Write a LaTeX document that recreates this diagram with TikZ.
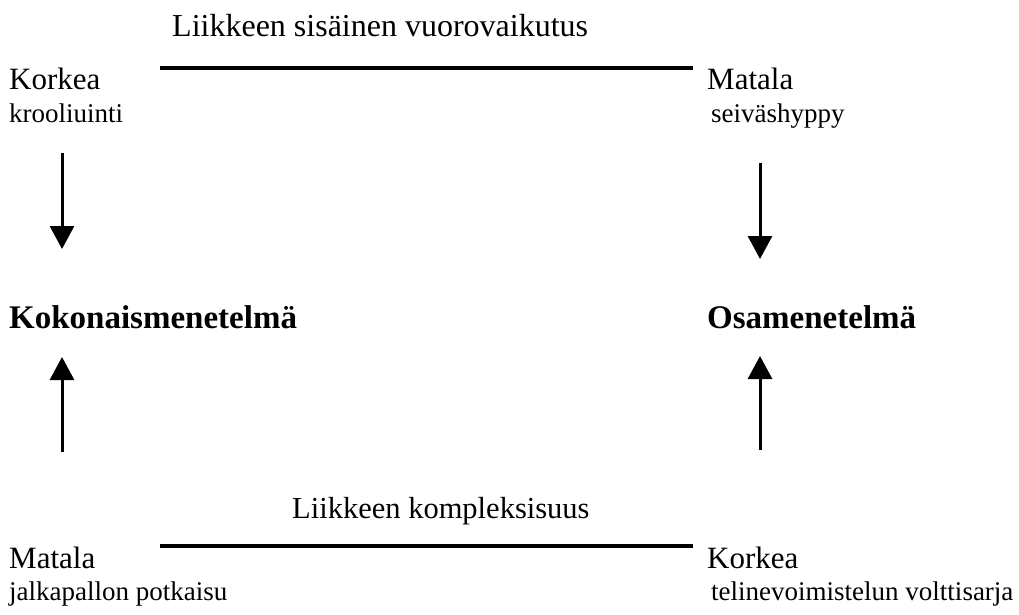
\documentclass[tikz,border=0pt]{standalone}
\usepackage{fontspec}
\setmainfont{Liberation Serif}
\usetikzlibrary{arrows.meta}
\begin{document}
\begin{tikzpicture}[x=1pt,y=-1pt,
  title/.style={anchor=base west,inner sep=0pt,font=\fontsize{32}{35}\selectfont},
  level/.style={anchor=base west,inner sep=0pt,font=\fontsize{31}{34}\selectfont},
  example/.style={anchor=base west,inner sep=0pt,font=\fontsize{27}{30}\selectfont},
  method/.style={anchor=base west,inner sep=0pt,font=\fontsize{33}{36}\selectfont\bfseries},
  scaleline/.style={line width=4.5pt},
  arr/.style={line width=3pt,-{Triangle[width=24pt,length=23pt]}}]
\useasboundingbox (0,0) rectangle (1019,615);
% top
\node[title] (t1) at (172,37) {Liikkeen sisäinen vuorovaikutus};
\coordinate (l1a) at (160,68);
\coordinate (l1b) at (693,68);
\draw[scaleline] (l1a) -- (l1b);
\node[level] (k1) at (9,90) {Korkea};
\node[example] (e1) at (9,122) {krooliuinti};
\node[level] (m1) at (707,90) {Matala};
\node[example] (e2) at (711,122) {seiväshyppy};
% methods
\node[method] (kok) at (9,328) {Kokonaismenetelmä};
\node[method] (osa) at (707,328) {Osamenetelmä};
% arrows
\coordinate (a1s) at (62,153);
\coordinate (a1e) at (62,249);
\coordinate (a2s) at (760,163);
\coordinate (a2e) at (760,259);
\coordinate (a3s) at (62,452);
\coordinate (a3e) at (62,357);
\coordinate (a4s) at (760,450);
\coordinate (a4e) at (760,356);
\draw[arr] (a1s) -- (a1e);
\draw[arr] (a2s) -- (a2e);
\draw[arr] (a3s) -- (a3e);
\draw[arr] (a4s) -- (a4e);
% bottom
\node[title,font=\fontsize{30.5}{34}\selectfont] (t2) at (292,518) {Liikkeen kompleksisuus};
\coordinate (l2a) at (160,546);
\coordinate (l2b) at (693,546);
\draw[scaleline] (l2a) -- (l2b);
\node[level] (m2) at (9,568) {Matala};
\node[example] (e3) at (9,600) {jalkapallon potkaisu};
\node[level] (k2) at (707,568) {Korkea};
\node[example] (e4) at (711,600) {telinevoimistelun volttisarja};
\end{tikzpicture}
\end{document}
